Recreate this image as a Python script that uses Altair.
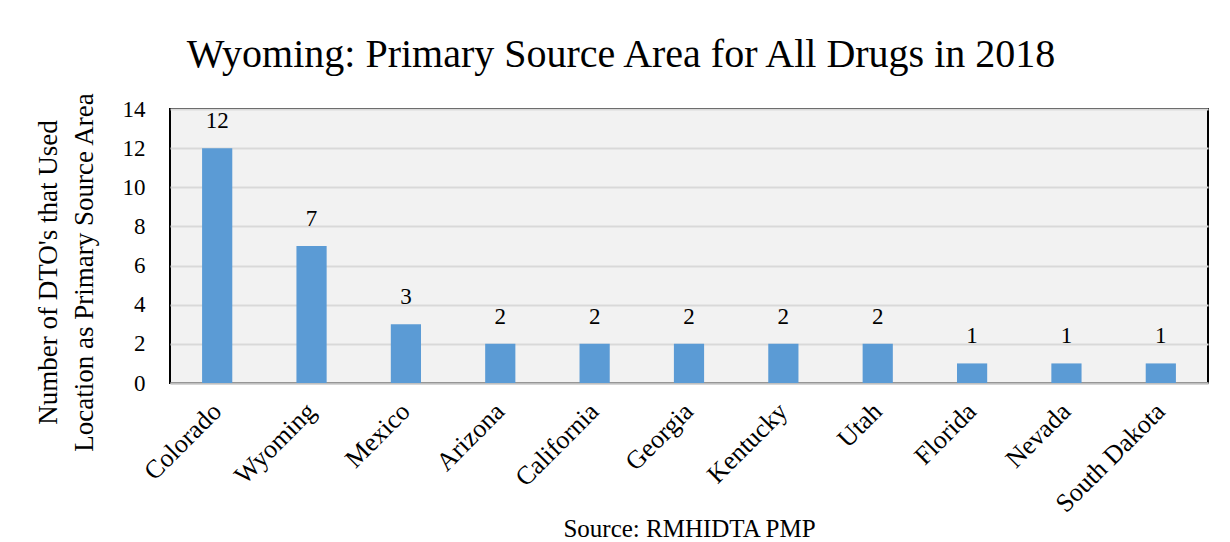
import altair as alt
import pandas as pd

states = ["Colorado", "Wyoming", "Mexico", "Arizona", "California", "Georgia",
          "Kentucky", "Utah", "Florida", "Nevada", "South Dakota"]
counts = [12, 7, 3, 2, 2, 2, 2, 2, 1, 1, 1]
y_ticks = [0, 2, 4, 6, 8, 10, 12, 14]

df = pd.DataFrame({"state": states, "count": counts})
FONT = "Liberation Serif"

base = alt.Chart(df).encode(
    x=alt.X("state:N", sort=states,
            scale=alt.Scale(paddingInner=0.68, paddingOuter=0.34),
            axis=alt.Axis(title="Source: RMHIDTA PMP", labelAngle=-45,
                          labelAlign="right", labelBaseline="middle",
                          labelPadding=24, labelFontSize=26, labelFont=FONT,
                          labelColor="#000", ticks=False, domainColor="#bfbfbf",
                          domainWidth=2, labelOverlap=False,
                          titleFont=FONT, titleFontSize=25,
                          titleFontWeight="normal", titleColor="#000",
                          titleY=158, titleBaseline="bottom", titleX=519)),
    y=alt.Y("count:Q", scale=alt.Scale(domain=[0, 14], nice=False),
            axis=alt.Axis(values=y_ticks, title=["Number of DTO's that Used",
                                                 "Location as Primary Source Area"],
                          titleFont=FONT, titleFontSize=27, titleFontWeight="normal",
                          titleColor="#000", titleAngle=270, titleAlign="center",
                          titleBaseline="middle", titleLineHeight=36,
                          titleX=-122, titleY=163,
                          labelFont=FONT, labelFontSize=23, labelColor="#000",
                          labelPadding=25, ticks=False, domain=False,
                          labelOverlap=False, labelFlush=False,
                          gridColor="#d9d9d9", gridWidth=2)),
)

bars = base.mark_bar(color="#5b9bd5")

labels = base.mark_text(font=FONT, fontSize=23, color="#000", baseline="bottom", dy=-15).encode(
    text=alt.Text("count:Q"),
)

chart = (bars + labels).properties(
    width=1038, height=274,
    title=alt.TitleParams("Wyoming: Primary Source Area for All Drugs in 2018",
                          font=FONT, fontSize=40, fontWeight="normal",
                          color="#000", anchor="middle", dx=-68, offset=34, dy=17),
    autosize=alt.AutoSizeParams(type="none"),
    padding={"left": 162, "top": 101, "right": 14, "bottom": 159},
).configure_view(
    fill="#f2f2f2", stroke="#000", strokeWidth=2
)

chart.save("out.html", embed_options={"renderer": "svg", "actions": False})
